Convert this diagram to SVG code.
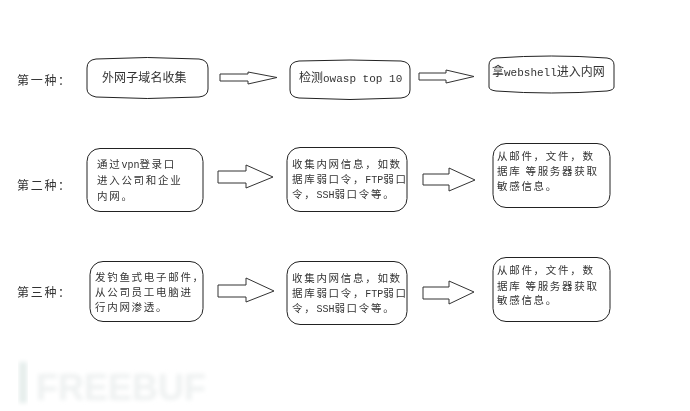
<svg xmlns="http://www.w3.org/2000/svg" width="690" height="411" viewBox="0 0 690 411">
<defs>
<filter id="soft" x="-5%" y="-5%" width="110%" height="110%"><feGaussianBlur stdDeviation="0.35"/></filter>
<filter id="wm" x="-10%" y="-20%" width="120%" height="140%"><feGaussianBlur stdDeviation="2"/></filter>
</defs>
<style>
.box{fill:#fff;stroke:#222;stroke-width:1}
.arrow{fill:#fff;stroke:#333;stroke-width:1}
text{font-family:"Noto Sans CJK SC","Liberation Sans",sans-serif;font-size:10.5px;letter-spacing:1.7px;fill:#333;filter:url(#soft)}
.lab{font-size:12px;letter-spacing:1.7px}
.big{font-size:12px;letter-spacing:0}
.lat{font-family:"Liberation Mono","Noto Sans CJK SC",monospace;font-size:10px;letter-spacing:0}
.lat2{font-family:"Liberation Mono","Noto Sans CJK SC",monospace;font-size:11px;letter-spacing:0}
.mark{font-family:"Liberation Sans",sans-serif;font-size:36px;font-weight:bold;letter-spacing:0;fill:#eef1f1;filter:url(#wm)}
</style>
<rect width="690" height="411" fill="#fff"/>
<g id="watermark">
<rect x="19" y="362" width="8" height="41" fill="#e6eeec" filter="url(#wm)"/>
<text class="mark" x="36" y="400">FREEBUF</text>
</g>
<g id="connectors">
<path class="arrow" d="M220 74H248V72L277 77.5L248 84V81H220Z"/>
<path class="arrow" d="M419 73H446V70L474 76.5L446 83V80H419Z"/>
<path class="arrow" d="M218 171H246V165L273 177L246 188V183H218Z"/>
<path class="arrow" d="M423 174H449V168L475 180L449 191V185H423Z"/>
<path class="arrow" d="M218 285H246V278L274 291L246 302V297H218Z"/>
<path class="arrow" d="M423 287H449V281L474 292L449 304V299H423Z"/>
</g>
<g id="label1"><text class="lab" x="17" y="85">第一种：</text></g>
<g id="label2"><text class="lab" x="17" y="190">第二种：</text></g>
<g id="label3"><text class="lab" x="17" y="297">第三种：</text></g>
<g id="n1">
<path class="box" d="M96 59Q147 56 199 59Q208 60 208 68V89Q208 96 199 97Q147 100 96 97Q87 95 87 89V68Q87 60 96 59Z"/>
<text class="big" x="102" y="82" style="letter-spacing:0.1px">外网子域名收集</text>
</g>
<g id="n2">
<path class="box" d="M299 61Q350 59 401 61Q410 62 410 69V90Q410 97 401 98Q350 101 299 98Q290 97 290 90V69Q290 62 299 61Z"/>
<text class="big" x="299" y="82">检测<tspan class="lat2">owasp top 10</tspan></text>
</g>
<g id="n3">
<path class="box" d="M496 58Q551 54 607 58Q614 59 614 65V87Q614 90 607 91Q551 95 496 91Q489 90 489 87V65Q489 59 496 58Z"/>
<text class="big" x="492" y="76">拿<tspan class="lat2">webshell</tspan>进入内网</text>
</g>
<g id="n4">
<rect class="box" x="87" y="148.500" width="116" height="63" rx="13"/>
<text x="97" y="168">通过<tspan class="lat">vpn</tspan>登录口</text>
<text x="97" y="184">进入公司和企业</text>
<text x="97" y="200">内网。</text>
</g>
<g id="n5">
<rect class="box" x="287" y="147.500" width="120" height="64" rx="13"/>
<text x="292" y="168">收集内网信息，如数</text>
<text x="292" y="183">据库弱口令，<tspan class="lat">FTP</tspan>弱口</text>
<text x="292" y="198">令，<tspan class="lat">SSH</tspan>弱口令等。</text>
</g>
<g id="n6">
<rect class="box" x="493" y="143.500" width="117" height="64" rx="13"/>
<text x="497" y="160">从邮件，文件，数</text>
<text x="497" y="175">据库 等服务器获取</text>
<text x="497" y="190">敏感信息。</text>
</g>
<g id="n7">
<rect class="box" x="90" y="261.500" width="113" height="60" rx="13"/>
<text x="95" y="281">发钓鱼式电子邮件，</text>
<text x="95" y="296">从公司员工电脑进</text>
<text x="95" y="311">行内网渗透。</text>
</g>
<g id="n8">
<rect class="box" x="287" y="261.500" width="120" height="63" rx="13"/>
<text x="292" y="282">收集内网信息，如数</text>
<text x="292" y="297">据库弱口令，<tspan class="lat">FTP</tspan>弱口</text>
<text x="292" y="312">令，<tspan class="lat">SSH</tspan>弱口令等。</text>
</g>
<g id="n9">
<rect class="box" x="493" y="257.500" width="117" height="64" rx="13"/>
<text x="497" y="274">从邮件，文件，数</text>
<text x="497" y="290">据库 等服务器获取</text>
<text x="497" y="304">敏感信息。</text>
</g>
</svg>
